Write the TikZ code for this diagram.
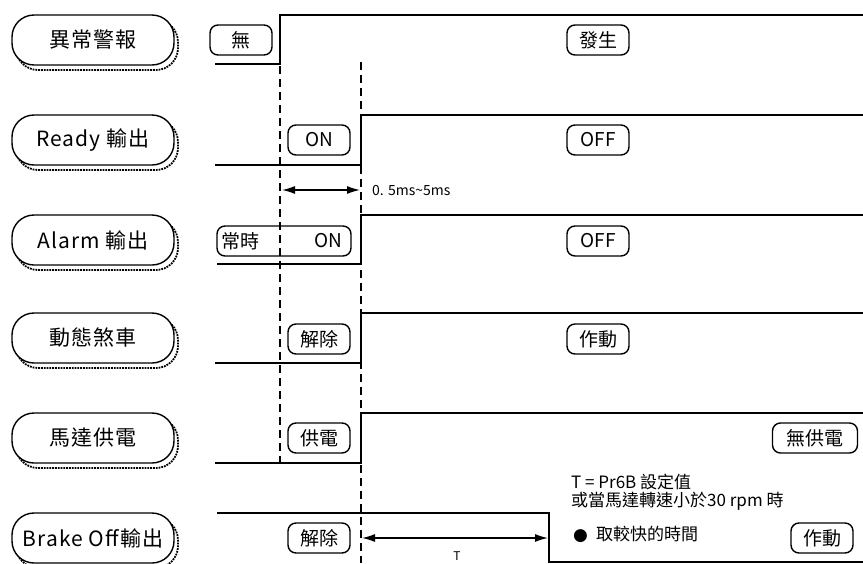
\documentclass[tikz,border=0pt]{standalone}
\usepackage{fontspec}
\setmainfont{Noto Sans CJK TC}
\newfontfamily\symfont{DejaVu Sans}
\newfontfamily\labfont[LetterSpace=5]{Noto Sans CJK TC}
\usetikzlibrary{arrows.meta}
\begin{document}
\begin{tikzpicture}[x=1pt,y=-1pt,
  sig/.style={line width=1.6pt},
  guide/.style={line width=1.3pt, dash pattern=on 8pt off 5pt},
  pill/.style={draw, line width=1.4pt, rounded corners=22pt, fill=white, minimum width=162pt, minimum height=50pt, inner sep=0pt, font=\labfont\fontsize{21}{21}\selectfont},
  pillshadow/.style={draw, line width=1.8pt, densely dotted, rounded corners=22pt, minimum width=162pt, minimum height=50pt, inner sep=0pt},
  state/.style={draw, line width=1.4pt, rounded corners=8pt, fill=white, minimum height=30pt, minimum width=62pt, inner sep=2pt, font=\fontsize{19}{19}\selectfont},
  plain/.style={inner sep=0pt, font=\fontsize{19}{19}\selectfont},
  note/.style={anchor=west, inner sep=0pt, font=\fontsize{17}{17}\selectfont},
  dim/.style={line width=1.3pt, {Latex[length=13pt,width=8pt]}-{Latex[length=13pt,width=8pt]}}
]
\useasboundingbox (0,0) rectangle (863,563);

% label pills with dotted shadows
\foreach \n/\y in {1/40,2/140,3/240,4/338,5/438,6/538}{
  \node[pillshadow] (sh\n) at (97,\y+5) {};
}
\node[pill] (l1) at (93,40) {異常警報};
\node[pill] (l2) at (93,140) {Ready 輸出};
\node[pill] (l3) at (93,240) {Alarm 輸出};
\node[pill] (l4) at (93,338) {動態煞車};
\node[pill] (l5) at (93,438) {馬達供電};
\node[pill] (l6) at (93,538) {Brake Off輸出};

% signals
\draw[sig] (215,64) -- (280,64) -- (280,15) -- (863,15);
\draw[sig] (215,165) -- (361,165) -- (361,115) -- (863,115);
\draw[sig] (217,264) -- (361,264) -- (361,215) -- (863,215);
\draw[sig] (215,363) -- (361,363) -- (361,313) -- (863,313);
\draw[sig] (215,463) -- (361,463) -- (361,413) -- (863,413);
\draw[sig] (217,513) -- (549,513) -- (549,562) -- (863,562);

% state boxes
\node[state] (s1) at (241,40) {無};
\node[state] (s1b) at (598,40) {發生};
\node[state] (s2) at (319,140) {ON};
\node[state] (s2b) at (598,140) {OFF};
\node[state, minimum width=134pt] (s3) at (284,241) {};
\node[plain, anchor=west] (s3a) at ([xshift=5pt]s3.west) {常時};
\node[plain, anchor=east] (s3c) at ([xshift=-9pt]s3.east) {ON};
\node[state] (s3b) at (598,241) {OFF};
\node[state] (s4) at (319,339) {解除};
\node[state] (s4b) at (598,339) {作動};
\node[state] (s5) at (319,438) {供電};
\node[state, minimum width=85pt] (s5b) at (815,438) {無供電};
\node[state] (s6) at (319,538) {解除};
\node[state] (s6b) at (822,538) {作動};

% guide lines
\coordinate (g1t) at (280,66);
\coordinate (g1b) at (280,462);
\coordinate (g2t) at (361,62);
\coordinate (g2b) at (361,563);
\draw[guide] (g1t) -- (g1b);
\draw[guide] (g2t) -- (g2b);

% dimension arrows
\coordinate (d1a) at (282,190);
\coordinate (d1b) at (360,190);
\draw[dim] (d1a) -- (d1b);
\node[anchor=west, inner sep=0pt, font=\fontsize{14}{14}\selectfont] (t1) at (372,191) {0. 5ms\textasciitilde 5ms};

\coordinate (d2a) at (362,538);
\coordinate (d2b) at (548,538);
\draw[dim] (d2a) -- (d2b);
\node[inner sep=0pt, font=\fontsize{12}{12}\selectfont] (t2) at (457,556) {T};

% notes
\node[note] (n1) at (571,482) {T = Pr6B 設定值};
\node[note] (n2) at (571,501) {或當馬達轉速小於30 rpm 時};
\node[note] (n3) at (573,534) {{\symfont ●}\hspace{8pt}取較快的時間};
\end{tikzpicture}
\end{document}
